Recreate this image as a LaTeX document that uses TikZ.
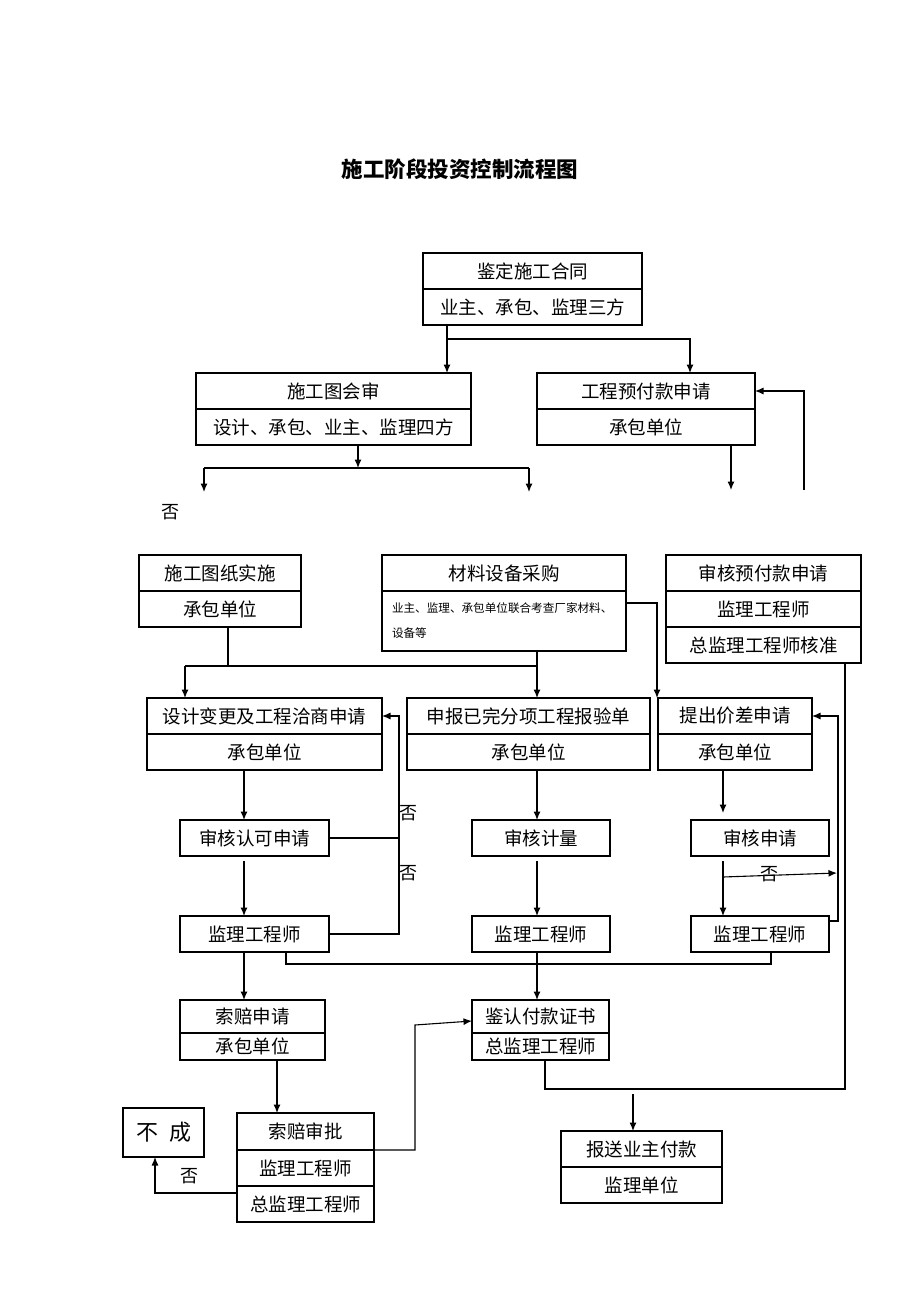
\documentclass[tikz,border=0pt]{standalone}
\usepackage{fontspec}
\newfontfamily\cjk{Noto Sans CJK SC}
\usetikzlibrary{positioning,arrows.meta}

\begin{document}
\begin{tikzpicture}[x=1pt,y=-1pt,
  cell/.style={draw,line width=1.3pt,inner sep=0pt,outer sep=0pt,minimum height=36pt,
    font=\cjk\fontsize{18.5}{21}\selectfont},
  ln/.style={line width=1.1pt},
  arr/.style={line width=1.1pt,-{Latex[length=8.5pt,width=7pt]}},
  fou/.style={font=\cjk\fontsize{18}{20}\selectfont}]
\useasboundingbox (0,0) rectangle (920,1302);
\node[font=\cjk\bfseries\fontsize{21.5}{24}\selectfont] (title) at (460,169) {施工阶段投资控制流程图};

% first rows
\node[cell,minimum width=219pt] (A1) at (532.5,271) {鉴定施工合同};
\node[cell,minimum width=219pt,below=0pt of A1] (A2) {业主、承包、监理三方};
\node[cell,minimum width=275pt] (B1) at (333.5,391) {施工图会审};
\node[cell,minimum width=275pt,below=0pt of B1] (B2) {设计、承包、业主、监理四方};
\node[cell,minimum width=218pt] (C1) at (646,391) {工程预付款申请};
\node[cell,minimum width=218pt,below=0pt of C1] (C2) {承包单位};

\node[cell,minimum width=162pt] (D1) at (220,573) {施工图纸实施};
\node[cell,minimum width=162pt,below=0pt of D1] (D2) {承包单位};
\node[cell,minimum width=244pt] (E1) at (504,573) {材料设备采购};
\node[cell,minimum width=244pt,minimum height=60pt,below=0pt of E1,text width=224pt,align=left,
  font=\cjk\fontsize{11.6}{25}\selectfont] (E2) {业主、监理、承包单位联合考查厂家材料、\\设备等};
\node[cell,minimum width=195pt] (F1) at (763.5,573) {审核预付款申请};
\node[cell,minimum width=195pt,below=0pt of F1] (F2) {监理工程师};
\node[cell,minimum width=195pt,below=0pt of F2] (F3) {总监理工程师核准};

\node[cell,minimum width=235pt] (G1) at (264.5,716) {设计变更及工程洽商申请};
\node[cell,minimum width=235pt,below=0pt of G1] (G2) {承包单位};
\node[cell,minimum width=243pt] (H1) at (528.5,716) {申报已完分项工程报验单};
\node[cell,minimum width=243pt,below=0pt of H1] (H2) {承包单位};
\node[cell,minimum width=154pt] (I1) at (735,716) {提出价差申请};
\node[cell,minimum width=154pt,below=0pt of I1] (I2) {承包单位};

\node[cell,minimum width=149pt] (J) at (254.5,838) {审核认可申请};
\node[cell,minimum width=149pt] (K) at (254.5,934) {监理工程师};
\node[cell,minimum width=138pt] (L) at (541,838) {审核计量};
\node[cell,minimum width=138pt] (M) at (541,934) {监理工程师};
\node[cell,minimum width=138pt] (P) at (760,838) {审核申请};
\node[cell,minimum width=138pt] (Q) at (760,934) {监理工程师};

% bottom rows
\node[cell,minimum width=145pt,minimum height=33pt] (S1) at (252.5,1016.5) {索赔申请};
\node[cell,minimum width=145pt,minimum height=27pt,below=0pt of S1] (S2) {承包单位};
\node[cell,minimum width=137pt,minimum height=33pt] (R1) at (540.5,1016.5) {鉴认付款证书};
\node[cell,minimum width=137pt,minimum height=27pt,below=0pt of R1] (R2) {总监理工程师};
\node[cell,minimum width=137pt,minimum height=37pt] (T1) at (305.5,1131.5) {索赔审批};
\node[cell,minimum width=137pt,below=0pt of T1] (T2) {监理工程师};
\node[cell,minimum width=137pt,below=0pt of T2] (T3) {总监理工程师};
\node[cell,minimum width=81pt,minimum height=49pt,font=\cjk\fontsize{22}{24}\selectfont] (U) at (163.5,1132.5) {不\hspace{11pt}成};
\node[cell,minimum width=161pt] (N1) at (641.5,1149) {报送业主付款};
\node[cell,minimum width=161pt,below=0pt of N1] (N2) {监理单位};

% connectors, top part
\coordinate (ac) at (447,339);
\draw[arr] (447,0 |- A2.south) -- (447,0 |- B1.north);
\draw[arr] (ac) -| (690,0 |- C1.north);
\coordinate (bm) at (358,468);
\coordinate (bl) at (204,468);
\coordinate (br) at (529,468);
\draw[arr] (358,0 |- B2.south) -- (bm);
\draw[ln] (bl) -- (br);
\draw[arr] (bl) -- ++(0,24);
\draw[arr] (br) -- ++(0,24);
\coordinate (cd) at (731,490);
\coordinate (cr) at (804,490);
\draw[arr] (731,0 |- C2.south) -- (cd);
\draw[arr] (cr) |- (C1.east);
\node[fou] (no1) at (170,512) {否};

\coordinate (dj) at (228,666);
\draw[ln] (228,0 |- D2.south) -- (dj);
\draw[ln] (185,666) -- (537,666);
\draw[arr] (185,666) -- (185,0 |- G1.north);
\draw[arr] (537,0 |- E2.south) -- (537,0 |- H1.north);
\draw[arr] (E2.east |- 0,603) -| (657,0 |- I1.north);
\draw[ln] (845,0 |- F3.south) |- (545,1089) -- (545,0 |- R2.south);

% left column
\draw[arr] (244,0 |- G2.south) -- (244,0 |- J.north);
\draw[arr,shorten <=5pt] (244,0 |- J.south) -- (244,0 |- K.north);
\draw[ln] (J.east) -- (399,0 |- J.east);
\draw[arr] (K.east) -- (399,0 |- K.east) |- (G1.east);
\node[fou] (no2) at (408,813) {否};
\node[fou] (no3) at (408,873) {否};

% middle column
\draw[arr] (537,0 |- H2.south) -- (537,0 |- L.north);
\draw[arr,shorten <=5pt] (537,0 |- L.south) -- (537,0 |- M.north);
\draw[arr] (537,0 |- M.south) -- (537,0 |- R1.north);

% right column
\draw[arr,shorten >=7pt] (723,0 |- I2.south) -- (723,0 |- P.north);
\draw[arr,shorten <=5pt] (723,0 |- P.south) -- (723,0 |- Q.north);
\coordinate (pf) at (723,877);
\coordinate (pt) at (837,873);
\draw[arr] (pf) -- (pt);
\node[fou] (no4) at (769,874) {否};
\draw[arr] (Q.east |- 0,921) -- (838,921) |- (I1.east);

\draw[ln] (286,0 |- K.south) |- (771,964) -- (771,0 |- Q.south);
\draw[arr] (244,0 |- K.south) -- (244,0 |- S1.north);

% claims
\draw[arr] (277,0 |- S2.south) -- (277,0 |- T1.north);
\draw[arr] (T2.north east) -- (415,0 |- T2.north east) -- (415,1025) -- (R1.west |- 0,1021);
\draw[arr] (T3.west |- 0,1193) -| (155,0 |- U.south);
\node[fou] (no5) at (189,1176) {否};
\coordinate (rn) at (633,1094);
\draw[arr] (rn) -- (633,0 |- N1.north);
\end{tikzpicture}
\end{document}
